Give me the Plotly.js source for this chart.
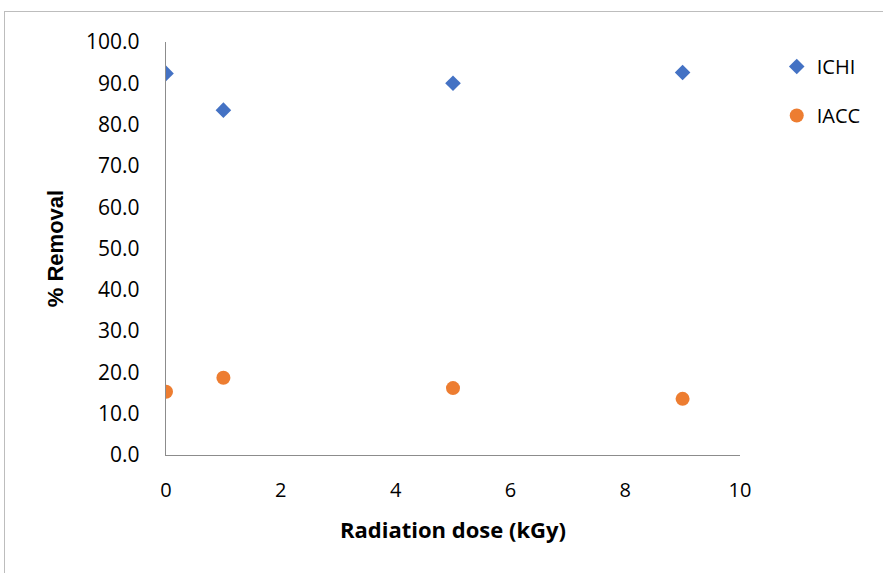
<!DOCTYPE html>
<html>
<head>
<meta charset="utf-8">
<script src="https://cdn.plot.ly/plotly-3.0.1.min.js"></script>
<style>
html,body{margin:0;padding:0;background:#fff;}
#wrap{position:relative;width:883px;height:573px;overflow:hidden;}
#chart{width:883px;height:573px;}
#frame{position:absolute;left:4px;top:11px;width:900px;height:600px;border:1px solid #bdbdbd;pointer-events:none;}
</style>
</head>
<body>
<div id="wrap"><div id="chart"></div><div id="frame"></div></div>
<script>
const doses = [0, 1, 5, 9];
const ichi = [92.4, 83.5, 90.0, 92.6];
const iacc = [15.3, 18.7, 16.2, 13.6];
const seriesNames = ['ICHI', 'IACC'];

const FONT = '"Open Sans", Lato, sans-serif';

const traces = [
  {x: doses, y: ichi, name: seriesNames[0], type: 'scatter', mode: 'markers', legendgroup: 'a',
   marker: {symbol: 'diamond', size: 12, color: '#4472C4'}},
  {x: doses, y: iacc, name: seriesNames[1], type: 'scatter', mode: 'markers', legendgroup: 'b',
   marker: {symbol: 'circle', size: 14, color: '#ED7D31'}}
];

const layout = {
  width: 883, height: 573,
  margin: {l: 166, r: 143, t: 42, b: 118},
  paper_bgcolor: '#fff', plot_bgcolor: '#fff',
  font: {family: FONT, size: 20, color: '#000'},
  xaxis: {
    range: [0, 10], dtick: 2, tick0: 0, showgrid: false, zeroline: false,
    showline: true, linecolor: '#8c8c8c', linewidth: 1.3, ticks: '',
    ticklabelstandoff: 17,
    tickfont: {family: FONT, size: 20, color: '#000'},
    title: {text: '<b>Radiation dose (kGy)</b>', font: {family: FONT, size: 22, color: '#000'}, standoff: 20}
  },
  yaxis: {
    range: [0, 100], dtick: 10, tick0: 0, tickformat: '.1f', showgrid: false, zeroline: false,
    showline: true, linecolor: '#8c8c8c', linewidth: 1.3, ticks: '',
    ticklabelstandoff: 21,
    tickfont: {family: FONT, size: 21, color: '#000'},
    title: {text: '<b>% Removal</b>', font: {family: '"Liberation Sans", Arial, sans-serif', size: 22, color: '#000'}, standoff: 16}
  },
  showlegend: true,
  legend: {x: 1.064, xanchor: 'left', y: 0.988, yanchor: 'top', traceorder: 'grouped', tracegroupgap: 20,
           font: {family: FONT, size: 20, color: '#000'}, bgcolor: 'rgba(0,0,0,0)'}
};

Plotly.newPlot('chart', traces, layout, {displayModeBar: false, staticPlot: true});
</script>
</body>
</html>
